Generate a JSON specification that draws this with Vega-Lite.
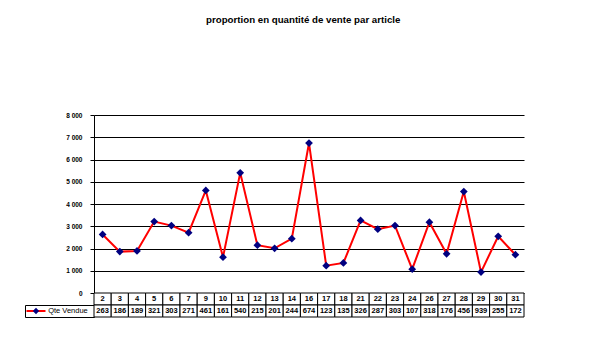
{
  "$schema": "https://vega.github.io/schema/vega-lite/v6.json",
  "padding": {"left": 21, "top": 15, "right": 0, "bottom": 0},
  "background": "white",
  "title": {
    "text": "proportion en quantité de vente par article",
    "font": "Liberation Sans",
    "fontSize": 9.7,
    "fontWeight": "bold",
    "color": "black",
    "anchor": "middle",
    "dx": 30,
    "offset": 87
  },
  "config": {
    "view": {"stroke": null},
    "font": "Liberation Sans"
  },
  "datasets": {
    "ventes": [
      {"article": "2", "qte": 2630, "affiche": "263"},
      {"article": "3", "qte": 1860, "affiche": "186"},
      {"article": "4", "qte": 1890, "affiche": "189"},
      {"article": "5", "qte": 3210, "affiche": "321"},
      {"article": "6", "qte": 3030, "affiche": "303"},
      {"article": "7", "qte": 2710, "affiche": "271"},
      {"article": "9", "qte": 4610, "affiche": "461"},
      {"article": "10", "qte": 1610, "affiche": "161"},
      {"article": "11", "qte": 5400, "affiche": "540"},
      {"article": "12", "qte": 2150, "affiche": "215"},
      {"article": "13", "qte": 2010, "affiche": "201"},
      {"article": "14", "qte": 2440, "affiche": "244"},
      {"article": "16", "qte": 6740, "affiche": "674"},
      {"article": "17", "qte": 1230, "affiche": "123"},
      {"article": "18", "qte": 1350, "affiche": "135"},
      {"article": "21", "qte": 3260, "affiche": "326"},
      {"article": "22", "qte": 2870, "affiche": "287"},
      {"article": "23", "qte": 3030, "affiche": "303"},
      {"article": "24", "qte": 1070, "affiche": "107"},
      {"article": "26", "qte": 3180, "affiche": "318"},
      {"article": "27", "qte": 1760, "affiche": "176"},
      {"article": "28", "qte": 4560, "affiche": "456"},
      {"article": "29", "qte": 939, "affiche": "939"},
      {"article": "30", "qte": 2550, "affiche": "255"},
      {"article": "31", "qte": 1720, "affiche": "172"}
    ],
    "serie": [{"serie": "Qte Vendue"}]
  },
  "columns": 2,
  "spacing": 0,
  "bounds": "flush",
  "align": "each",
  "concat": [
    {
      "width": 69, "height": 178,
      "data": {"name": "serie"},
      "mark": {"type": "text", "text": ""}
    },
    {
      "width": 430, "height": 178,
      "data": {"name": "ventes"},
      "encoding": {
        "x": {"field": "article", "type": "nominal", "sort": null, "scale": {"type": "point", "padding": 0.5}, "axis": null},
        "y": {
          "field": "qte", "type": "quantitative",
          "scale": {"domain": [0, 8000], "nice": false},
          "axis": {
            "title": null,
            "values": [0, 1000, 2000, 3000, 4000, 5000, 6000, 7000, 8000],
            "grid": true, "gridColor": "black", "gridOpacity": 1, "gridWidth": 1,
            "domainColor": "black", "domainWidth": 1,
            "tickColor": "black", "tickSize": 4,
            "labelFont": "Liberation Sans", "labelFontSize": 6.5, "labelFontWeight": "bold", "labelColor": "black",
            "labelPadding": 8,
            "labelExpr": "replace(format(datum.value, ','), ',', ' ')"
          }
        }
      },
      "layer": [
        {"mark": {"type": "line", "color": "#ff0000", "strokeWidth": 2}},
        {"mark": {"type": "point", "shape": "diamond", "filled": true, "color": "#000080", "size": 60, "opacity": 1}}
      ]
    },
    {
      "width": 69, "height": 12,
      "data": {"name": "serie"},
      "mark": {"type": "text", "text": ""}
    },
    {
      "width": 430, "height": 12,
      "data": {"name": "ventes"},
      "encoding": {
        "x": {"field": "article", "type": "nominal", "sort": null, "scale": {"type": "band", "paddingInner": 0, "paddingOuter": 0}, "axis": null}
      },
      "layer": [
        {"mark": {"type": "rect", "fill": "white", "stroke": "black", "strokeWidth": 1}},
        {"mark": {"type": "text", "font": "Liberation Sans", "fontSize": 7.5, "fontWeight": "bold", "color": "black"},
         "encoding": {"text": {"field": "article"}}}
      ]
    },
    {
      "width": 69, "height": 12,
      "view": {"stroke": "black", "strokeWidth": 1},
      "data": {"name": "serie"},
      "layer": [
        {"mark": {"type": "point", "shape": "stroke", "color": "#ff0000", "strokeWidth": 2, "size": 361, "opacity": 1},
         "encoding": {"x": {"datum": "symbole", "type": "nominal", "scale": {"type": "point", "domain": ["symbole", "texte"], "padding": 0.578, "align": 0.297}, "axis": null}}},
        {"mark": {"type": "point", "shape": "diamond", "filled": true, "color": "#000080", "size": 40, "opacity": 1},
         "encoding": {"x": {"datum": "symbole", "type": "nominal"}}},
        {"mark": {"type": "text", "font": "Liberation Sans", "fontSize": 7.5, "color": "black"},
         "encoding": {"x": {"datum": "texte", "type": "nominal"}, "text": {"field": "serie"}}}
      ]
    },
    {
      "width": 430, "height": 12,
      "data": {"name": "ventes"},
      "encoding": {
        "x": {"field": "article", "type": "nominal", "sort": null, "scale": {"type": "band", "paddingInner": 0, "paddingOuter": 0}, "axis": null}
      },
      "layer": [
        {"mark": {"type": "rect", "fill": "white", "stroke": "black", "strokeWidth": 1}},
        {"mark": {"type": "text", "font": "Liberation Sans", "fontSize": 7.5, "fontWeight": "bold", "color": "black"},
         "encoding": {"text": {"field": "affiche"}}}
      ]
    }
  ]
}
